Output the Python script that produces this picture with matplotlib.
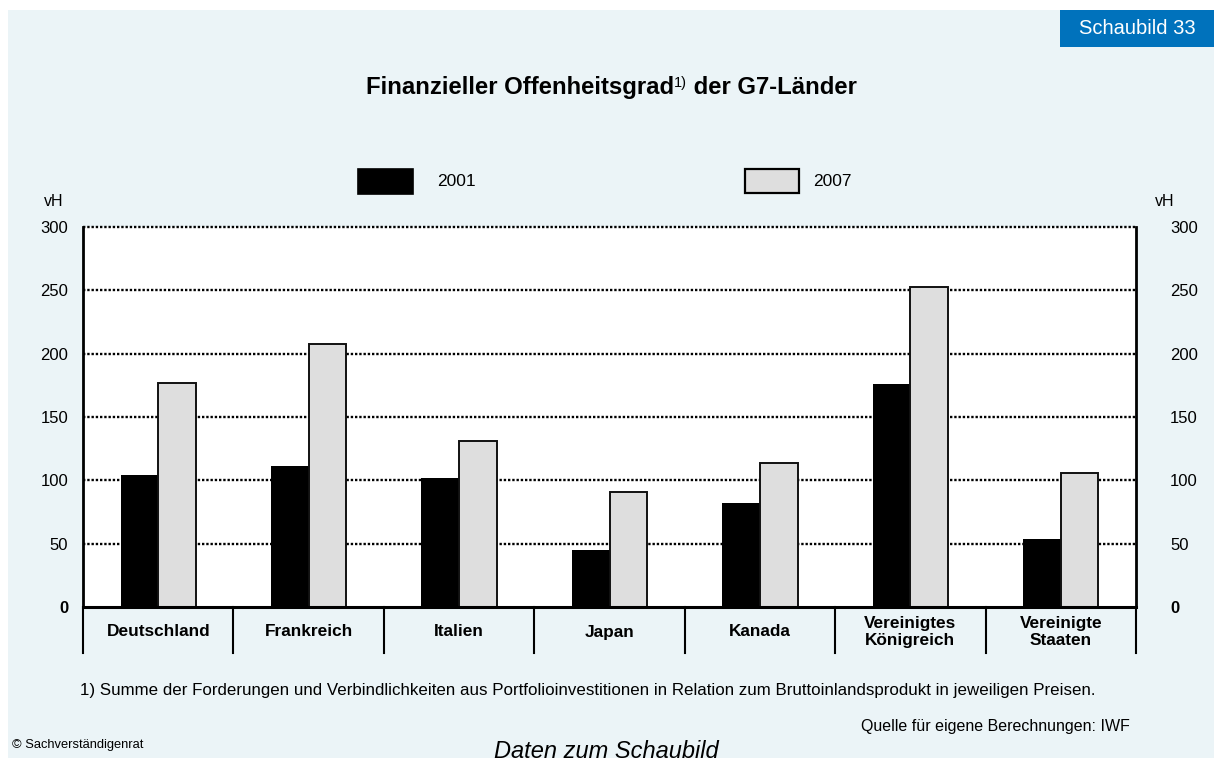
import numpy as np
import matplotlib
matplotlib.use("Agg")
import matplotlib.pyplot as plt
from matplotlib.patches import Rectangle
from matplotlib.transforms import blended_transform_factory

plt.rcParams['font.family'] = ['Liberation Sans', 'DejaVu Sans']

# Data
countries = ["Deutschland", "Frankreich", "Italien", "Japan", "Kanada",
             "Vereinigtes\nKönigreich", "Vereinigte\nStaaten"]
values_2001 = [104, 111, 102, 45, 82, 176, 54]
values_2007 = [177, 208, 131, 91, 114, 253, 106]
series_names = ["2001", "2007"]
y_ticks = [0, 50, 100, 150, 200, 250, 300]

W, H = 1214, 758
BG = '#ebf4f7'
BLUE = '#0072bc'
GREY = '#dedede'

fig = plt.figure(figsize=(W / 100, H / 100), dpi=100)
fig.patch.set_facecolor('white')


def fx(px):
    return px / W


def fy(py):
    return 1 - py / H


# page background
fig.patches.append(Rectangle((fx(8), 0), 1 - fx(8), fy(10), transform=fig.transFigure,
                             facecolor=BG, edgecolor='none', zorder=-10))

# header box
fig.patches.append(Rectangle((fx(1060), fy(47)), 1 - fx(1060), fy(10) - fy(47),
                             transform=fig.transFigure, facecolor=BLUE,
                             edgecolor='none', zorder=-5))
fig.text(fx(1137), fy(29), "Schaubild 33", color='white', fontsize=14.5,
         ha='center', va='center')

# plot area
ax = fig.add_axes([fx(83), fy(607), fx(1136) - fx(83), fy(227) - fy(607)])
ax.set_zorder(5)
ax.set_facecolor('white')
x = np.arange(len(countries))
bw = 0.25
ax.bar(x - bw / 2, values_2001, width=bw, color='black', edgecolor='none', zorder=3)
ax.bar(x + bw / 2, values_2007, width=bw, color=GREY, edgecolor='#111111',
       linewidth=1.4, zorder=3)

for v in y_ticks[1:]:
    ax.axhline(v, color='black', lw=1.7, ls=(0, (1, 0.8)), zorder=1, clip_on=False)
ax.axhline(0, color='black', lw=2.2, zorder=4, clip_on=False)

ax.set_xlim(-0.5, len(countries) - 0.5)
ax.set_ylim(0, 300)
for s in ('top', 'bottom'):
    ax.spines[s].set_visible(False)
for s in ('left', 'right'):
    ax.spines[s].set_linewidth(2)
    ax.spines[s].set_color('black')
    ax.spines[s].set_zorder(5)

# category separators below the axis
trans = blended_transform_factory(ax.transData, ax.transAxes)
for xs in np.arange(-0.5, len(countries), 1.0):
    ax.plot([xs, xs], [0, -0.12], transform=trans, color='black', lw=1.5,
            clip_on=False, zorder=5)

ax.set_xticks(x)
ax.set_xticklabels(countries, fontsize=12.4, fontweight='bold', linespacing=1.2)
for lbl in ax.get_xticklabels():
    lbl.set_va('center')
    lbl.set_multialignment('center')
ax.tick_params(axis='x', length=0, pad=18)

ax.set_yticks(y_ticks)
ax.set_yticklabels([str(v) for v in y_ticks], fontsize=12)
ax.tick_params(axis='y', length=0, pad=10.8)
ax.get_yticklabels()[0].set_fontweight('bold')

ax2 = ax.twinx()
ax2.set_zorder(6)
ax2.set_ylim(ax.get_ylim())
ax2.set_yticks(y_ticks)
ax2.set_yticklabels([str(v) for v in y_ticks], fontsize=12)
ax2.tick_params(axis='y', length=0, pad=24.5)
ax2.get_yticklabels()[0].set_fontweight('bold')
for s in ax2.spines.values():
    s.set_visible(False)

fig.text(fx(54), fy(202), "vH", fontsize=11.5, ha='center', va='center')
fig.text(fx(1165), fy(202), "vH", fontsize=11.5, ha='center', va='center')

# legend
fig.patches.append(Rectangle((fx(358), fy(194)), fx(413) - fx(358), fy(169) - fy(194),
                             transform=fig.transFigure, facecolor='black',
                             edgecolor='black', lw=1.2, zorder=2))
fig.text(fx(437), fy(182), series_names[0], fontsize=12.5, ha='left', va='center')
fig.patches.append(Rectangle((fx(745), fy(193)), fx(799) - fx(745), fy(169) - fy(193),
                             transform=fig.transFigure, facecolor=GREY,
                             edgecolor='black', lw=1.6, zorder=2))
fig.text(fx(813), fy(182), series_names[1], fontsize=12.5, ha='left', va='center')

# title with superscript footnote marker
renderer = fig.canvas.get_renderer()
parts = [("Finanzieller Offenheitsgrad", 17.2, 'bold', 0),
         ("1)", 10.5, 'normal', 7),
         (" der G7-Länder", 17.2, 'bold', 0)]
texts = []
total = 0
for s, size, weight, dy in parts:
    t = fig.text(0, fy(94), s, fontsize=size, fontweight=weight, va='baseline')
    w = t.get_window_extent(renderer).width
    texts.append((t, w, dy))
    total += w
cx = 611 - total / 2
for t, w, dy in texts:
    t.set_position((fx(cx), fy(94) + dy / H))
    cx += w

# footnotes
fig.text(fx(80), fy(690), "1) Summe der Forderungen und Verbindlichkeiten aus "
         "Portfolioinvestitionen in Relation zum Bruttoinlandsprodukt in jeweiligen Preisen.",
         fontsize=12.2, ha='left', va='center')
fig.text(fx(1130), fy(727), "Quelle für eigene Berechnungen: IWF", fontsize=11.5,
         ha='right', va='center')
fig.text(fx(12), fy(745), "© Sachverständigenrat", fontsize=9.3, ha='left', va='center')
fig.text(fx(606), fy(758), "Daten zum Schaubild", fontsize=17, style='italic',
         ha='center', va='baseline')

fig.savefig("out.png", dpi=100, facecolor=fig.get_facecolor())
